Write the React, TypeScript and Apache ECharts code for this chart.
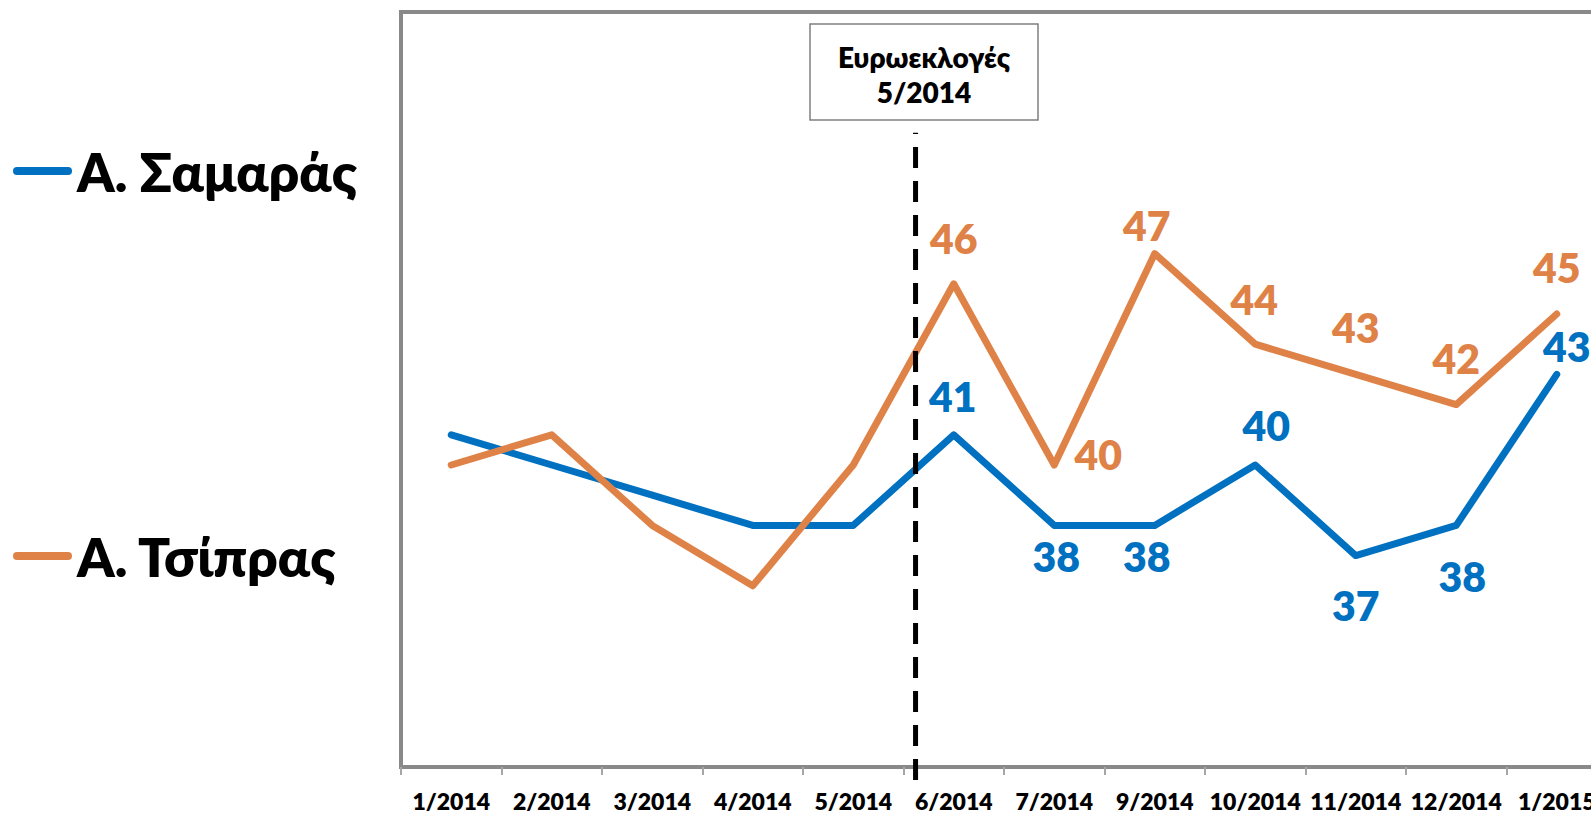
import React, { useEffect, useRef } from "react";
import * as echarts from "echarts";

const categories = ["1/2014", "2/2014", "3/2014", "4/2014", "5/2014", "6/2014", "7/2014", "9/2014", "10/2014", "11/2014", "12/2014", "1/2015"];
const samarasValues = [41, 40, 39, 38, 38, 41, 38, 38, 40, 37, 38, 43];
const tsiprasValues = [40, 41, 38, 36, 40, 46, 40, 47, 44, 43, 42, 45];
const seriesNames = ["Α. Σαμαράς", "Α. Τσίπρας"];
const annotationLines = ["Ευρωεκλογές", "5/2014"];
// position of the election marker, in category-index units
const electionIndex = 4.62;
const electionSpan = [29.57, 51.0];

// label placement (offset of label centre from the point), null = no label
const samarasLabelOffsets: ([number, number] | null)[] = [null, null, null, null, null, [-1, -38], [2, 31], [-8, 31], [11, -40], [0, 50], [6, 51], [10, -28]];
const tsiprasLabelOffsets: ([number, number] | null)[] = [null, null, null, null, null, [0, -45], [44, -11], [-8, -28], [-1, -45], [0, -47], [0, -46], [0, -47]];

const BLUE = "#0070C0";
const ORANGE = "#DF8247";
const GRAY = "#898989";
const FONT = "Lato, 'Open Sans', 'Noto Sans', sans-serif";
const WEIGHT = 800;

function buildData(values: number[], offsets: ([number, number] | null)[], color: string) {
  return values.map((v, i) => {
    const off = offsets[i];
    return {
      value: v,
      label: off
        ? {
            show: true,
            position: "inside",
            offset: off,
            color,
            fontSize: 41,
            fontWeight: WEIGHT,
            fontFamily: FONT,
          }
        : { show: false },
    };
  });
}

export default function App() {
  const ref = useRef<HTMLDivElement>(null);
  useEffect(() => {
    if (!ref.current) return;
    const chart = echarts.init(ref.current, null, { renderer: "svg" });
    const legendIcon = "path://M4,0 L55,0 A4,4 0 0 1 55,8 L4,8 A4,4 0 0 1 4,0 Z";
    chart.setOption({
      animation: false,
      backgroundColor: "#ffffff",
      grid: {
        left: 401,
        top: 12,
        width: 1206,
        height: 755,
        show: true,
        borderColor: GRAY,
        borderWidth: 4,
        backgroundColor: "transparent",
      },
      legend: {
        data: seriesNames.map((n) => ({ name: n, icon: legendIcon })),
        orient: "vertical",
        left: 13,
        top: 141,
        padding: 0,
        itemWidth: 59,
        itemHeight: 8,
        itemGap: 325,
        itemTextGap: 3,
        selectedMode: false,
        textStyle: {
          fontSize: 53,
          fontWeight: WEIGHT,
          color: "#000",
          fontFamily: FONT,
          lineHeight: 60,
        },
      },
      xAxis: [
        {
          type: "category",
          data: categories,
          boundaryGap: true,
          axisLine: { show: true, lineStyle: { color: GRAY, width: 4 } },
          axisTick: { show: true, length: 8, lineStyle: { color: "#a6a6a6", width: 2 } },
          axisLabel: {
            interval: 0,
            margin: 22,
            fontSize: 23,
            fontWeight: WEIGHT,
            color: "#000",
            fontFamily: FONT,
          },
          splitLine: { show: false },
        },
        {
          type: "value",
          min: -0.5,
          max: 11.5,
          show: false,
          splitLine: { show: false },
        },
      ],
      yAxis: {
        type: "value",
        min: 30,
        max: 55,
        show: false,
        splitLine: { show: false },
      },
      series: [
        {
          name: seriesNames[0],
          type: "line",
          data: buildData(samarasValues, samarasLabelOffsets, BLUE),
          symbol: "circle",
          symbolSize: 1,
          showSymbol: true,
          itemStyle: { color: BLUE },
          lineStyle: { color: BLUE, width: 7, cap: "round", join: "round" },
          z: 3,
        },
        {
          name: seriesNames[1],
          type: "line",
          data: buildData(tsiprasValues, tsiprasLabelOffsets, ORANGE),
          symbol: "circle",
          symbolSize: 1,
          showSymbol: true,
          itemStyle: { color: ORANGE },
          lineStyle: { color: ORANGE, width: 7, cap: "round", join: "round" },
          z: 4,
        },
        {
          name: "election",
          type: "line",
          xAxisIndex: 1,
          data: [
            [electionIndex, electionSpan[0]],
            [electionIndex, electionSpan[1]],
          ],
          symbol: "none",
          clip: false,
          silent: true,
          lineStyle: { color: "#000", width: 5, type: [21, 13] },
          z: 5,
        },
      ],
      graphic: [
        {
          type: "rect",
          shape: { x: 810, y: 24, width: 228, height: 96 },
          style: { fill: "#fff", stroke: "#808080", lineWidth: 1.5 },
          z: 10,
        },
        {
          type: "text",
          x: 924,
          y: 57,
          style: {
            text: annotationLines[0],
            fontSize: 28,
            fontWeight: WEIGHT,
            fontFamily: FONT,
            fill: "#000",
            align: "center",
            verticalAlign: "middle",
          },
          z: 11,
        },
        {
          type: "text",
          x: 924,
          y: 92,
          style: {
            text: annotationLines[1],
            fontSize: 28,
            fontWeight: WEIGHT,
            fontFamily: FONT,
            fill: "#000",
            align: "center",
            verticalAlign: "middle",
          },
          z: 11,
        },
      ],
    });
    return () => chart.dispose();
  }, []);
  return (
    <div style={{ position: "fixed", left: 0, top: 0, width: 1591, height: 814, overflow: "hidden", background: "#fff" }}>
      <div ref={ref} style={{ width: 1620, height: 814 }} />
    </div>
  );
}
